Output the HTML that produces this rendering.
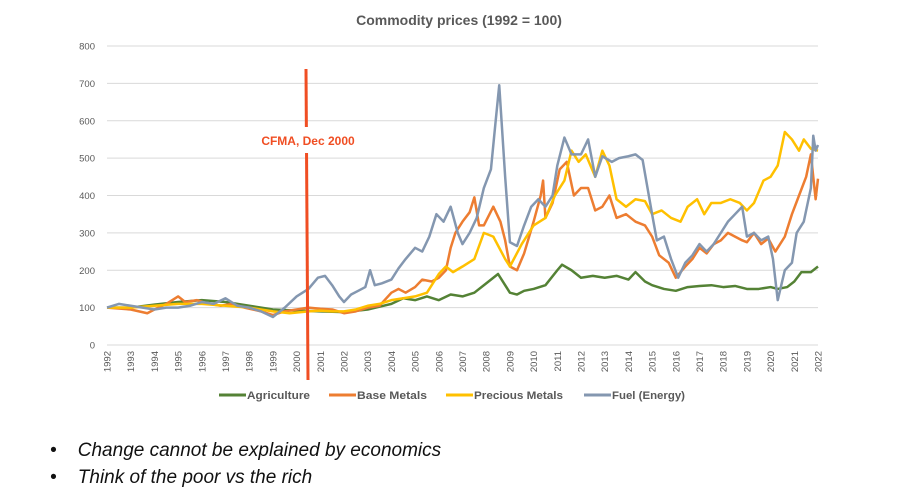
<!DOCTYPE html>
<html><head><meta charset="utf-8"><style>
body{margin:0;background:#fff;font-family:"Liberation Sans",sans-serif;}
.b{position:absolute;left:50px;font-style:italic;font-size:19px;color:#111;}
</style></head><body>
<div style="position:relative;width:918px;height:500px;overflow:hidden">
<svg id="chart" width="918" height="420" style="position:absolute;left:0;top:0"></svg>
<div class="b" style="top:440px">•&nbsp;&nbsp;&nbsp;&nbsp;Change cannot be explained by economics</div>
<div class="b" style="top:467px">•&nbsp;&nbsp;&nbsp;&nbsp;Think of the poor vs the rich</div>
</div>
<script>
const yTicks=[0,100,200,300,400,500,600,700,800];
const years=[];for(let y=1992;y<=2022;y++)years.push(y);
const agriculture=[[1992,100],[1993,100],[1994,108],[1995,115],[1996,120],[1997,115],[1998,105],[1999,95],[2000,92],[2001,90],[2002,88],[2003,95],[2004,110],[2004.5,125],[2005,120],[2005.5,130],[2006,120],[2006.5,135],[2007,130],[2007.5,140],[2008,165],[2008.5,190],[2009,140],[2009.3,135],[2009.6,145],[2010,150],[2010.5,160],[2011,200],[2011.2,215],[2011.6,200],[2012,180],[2012.5,185],[2013,180],[2013.5,185],[2014,175],[2014.3,195],[2014.7,170],[2015,160],[2015.5,150],[2016,145],[2016.5,155],[2017,158],[2017.5,160],[2018,155],[2018.5,158],[2019,150],[2019.5,150],[2020,155],[2020.3,150],[2020.7,155],[2021,170],[2021.3,195],[2021.7,195],[2022,210]];
const baseMetals=[[1992,100],[1993,95],[1993.7,85],[1994,95],[1994.5,110],[1995,130],[1995.3,115],[1995.8,120],[1996.3,110],[1996.8,105],[1997.3,110],[1997.8,100],[1998.5,90],[1999,80],[1999.5,90],[2000,95],[2000.5,100],[2001,97],[2001.5,95],[2002,85],[2002.5,90],[2003,100],[2003.5,105],[2004,140],[2004.3,150],[2004.6,140],[2005,155],[2005.3,175],[2005.7,170],[2006,180],[2006.3,200],[2006.5,260],[2006.7,300],[2007,330],[2007.3,355],[2007.5,395],[2007.7,320],[2007.9,320],[2008.3,370],[2008.6,330],[2008.8,280],[2009,210],[2009.3,200],[2009.6,245],[2010,330],[2010.3,400],[2010.4,440],[2010.5,340],[2010.8,380],[2011.1,470],[2011.4,490],[2011.7,400],[2012,420],[2012.3,420],[2012.6,360],[2012.9,370],[2013.2,400],[2013.5,340],[2013.9,350],[2014.3,330],[2014.7,320],[2015,290],[2015.3,240],[2015.7,220],[2016,180],[2016.4,210],[2016.7,230],[2017,260],[2017.3,245],[2017.6,270],[2017.9,280],[2018.2,300],[2018.5,290],[2018.8,280],[2019,275],[2019.3,300],[2019.6,270],[2019.9,285],[2020.2,250],[2020.6,290],[2020.9,350],[2021.2,400],[2021.5,450],[2021.7,510],[2021.9,390],[2022,445]];
const preciousMetals=[[1992,100],[1993,100],[1994,105],[1995,110],[1996,110],[1997,105],[1998,100],[1999,90],[1999.7,85],[2000.5,90],[2001,92],[2001.5,90],[2002,90],[2002.5,95],[2003,105],[2003.5,110],[2004,120],[2004.5,125],[2005,130],[2005.5,140],[2006,190],[2006.3,210],[2006.6,195],[2007,210],[2007.5,230],[2007.9,300],[2008.3,290],[2008.8,230],[2009,210],[2009.5,270],[2010,320],[2010.5,340],[2010.9,400],[2011.3,440],[2011.6,520],[2011.9,490],[2012.2,510],[2012.6,450],[2012.9,520],[2013.2,480],[2013.5,390],[2013.9,370],[2014.3,390],[2014.7,385],[2015,350],[2015.4,360],[2015.8,340],[2016.2,330],[2016.5,370],[2016.9,390],[2017.2,350],[2017.5,380],[2017.9,380],[2018.3,390],[2018.7,380],[2019,360],[2019.3,380],[2019.7,440],[2020,450],[2020.3,480],[2020.6,570],[2020.9,550],[2021.2,520],[2021.4,550],[2021.7,525],[2022,520]];
const fuel=[[1992,100],[1992.5,110],[1993,105],[1993.5,100],[1994,95],[1994.5,100],[1995,100],[1995.5,105],[1996,115],[1996.5,110],[1997,125],[1997.5,105],[1998,100],[1998.5,90],[1999,75],[1999.5,100],[2000,130],[2000.5,150],[2000.9,180],[2001.2,185],[2001.5,160],[2001.8,130],[2002,115],[2002.3,135],[2002.6,145],[2002.9,155],[2003.1,200],[2003.3,160],[2003.6,165],[2004,175],[2004.3,205],[2004.6,230],[2005,260],[2005.3,250],[2005.6,290],[2005.9,350],[2006.2,330],[2006.5,370],[2006.8,300],[2007,270],[2007.3,300],[2007.6,340],[2007.9,420],[2008.2,470],[2008.4,600],[2008.55,695],[2008.8,450],[2009,275],[2009.3,265],[2009.6,320],[2009.9,370],[2010.2,390],[2010.5,370],[2010.8,400],[2011,480],[2011.3,555],[2011.6,510],[2012,510],[2012.3,550],[2012.6,450],[2012.9,505],[2013.3,490],[2013.6,500],[2014,505],[2014.3,510],[2014.6,495],[2015,350],[2015.2,280],[2015.5,290],[2015.8,230],[2016.1,180],[2016.4,220],[2016.7,240],[2017,270],[2017.3,250],[2017.6,270],[2017.9,300],[2018.2,330],[2018.5,350],[2018.8,370],[2019,290],[2019.3,300],[2019.6,280],[2019.9,290],[2020.1,230],[2020.3,120],[2020.6,200],[2020.9,220],[2021.1,300],[2021.4,330],[2021.7,420],[2021.8,560],[2021.9,520],[2022,535]];
const series=[["agriculture",agriculture,"#548235","Agriculture"],["base-metals",baseMetals,"#ED7D31","Base Metals"],["precious-metals",preciousMetals,"#FFC000","Precious Metals"],["fuel",fuel,"#8497B0","Fuel (Energy)"]];
const NS="http://www.w3.org/2000/svg",svg=document.getElementById('chart');
const X=v=>107+(v-1992)*(818-107)/30, Y=v=>345-v*(345-46)/800;
function mk(t,a,p){const e=document.createElementNS(NS,t);for(const k in a)e.setAttribute(k,a[k]);(p||svg).appendChild(e);return e;}
let t=mk('text',{x:459,y:25,'text-anchor':'middle','font-size':14,'font-weight':'bold',fill:'#595959'});t.textContent='Commodity prices (1992 = 100)';


yTicks.forEach(v=>{const l=mk('line',{x1:107,x2:818,y1:Y(v),y2:Y(v),stroke:'#d9d9d9','stroke-width':1});


const tx=mk('text',{x:95,y:Y(v)+3.5,'text-anchor':'end','font-size':9.5,fill:'#595959'});tx.textContent=v;

});
years.forEach(y=>{const tx=mk('text',{transform:`translate(${X(y)+3.5},351) rotate(-90)`,'text-anchor':'end','font-size':9.5,fill:'#595959'});tx.textContent=y;

});
series.forEach(s=>{const p=mk('polyline',{points:s[1].map(d=>X(d[0])+','+Y(d[1])).join(' '),fill:'none',stroke:s[2],'stroke-width':2.5,'stroke-linejoin':'round'});

});
const rl=mk('line',{x1:306,x2:308,y1:69,y2:380,stroke:'#F04E23','stroke-width':3});


mk('rect',{x:258,y:127,width:100,height:26,fill:'#fff'});
const ct=mk('text',{x:308,y:145,'text-anchor':'middle','font-size':12,'font-weight':'bold',fill:'#F04E23'});ct.textContent='CFMA, Dec 2000';


const lx=[219,329,446,584],lw=[63,70,89,73];
series.forEach((s,i)=>{const g=mk('g',{});


mk('line',{x1:lx[i],x2:lx[i]+27,y1:395,y2:395,stroke:s[2],'stroke-width':3},g);
const tx=mk('text',{x:lx[i]+28,y:399,'font-size':11,'font-weight':'bold',fill:'#595959',textLength:lw[i],lengthAdjust:'spacingAndGlyphs'},g);tx.textContent=s[3];});
</script>
</body></html>
